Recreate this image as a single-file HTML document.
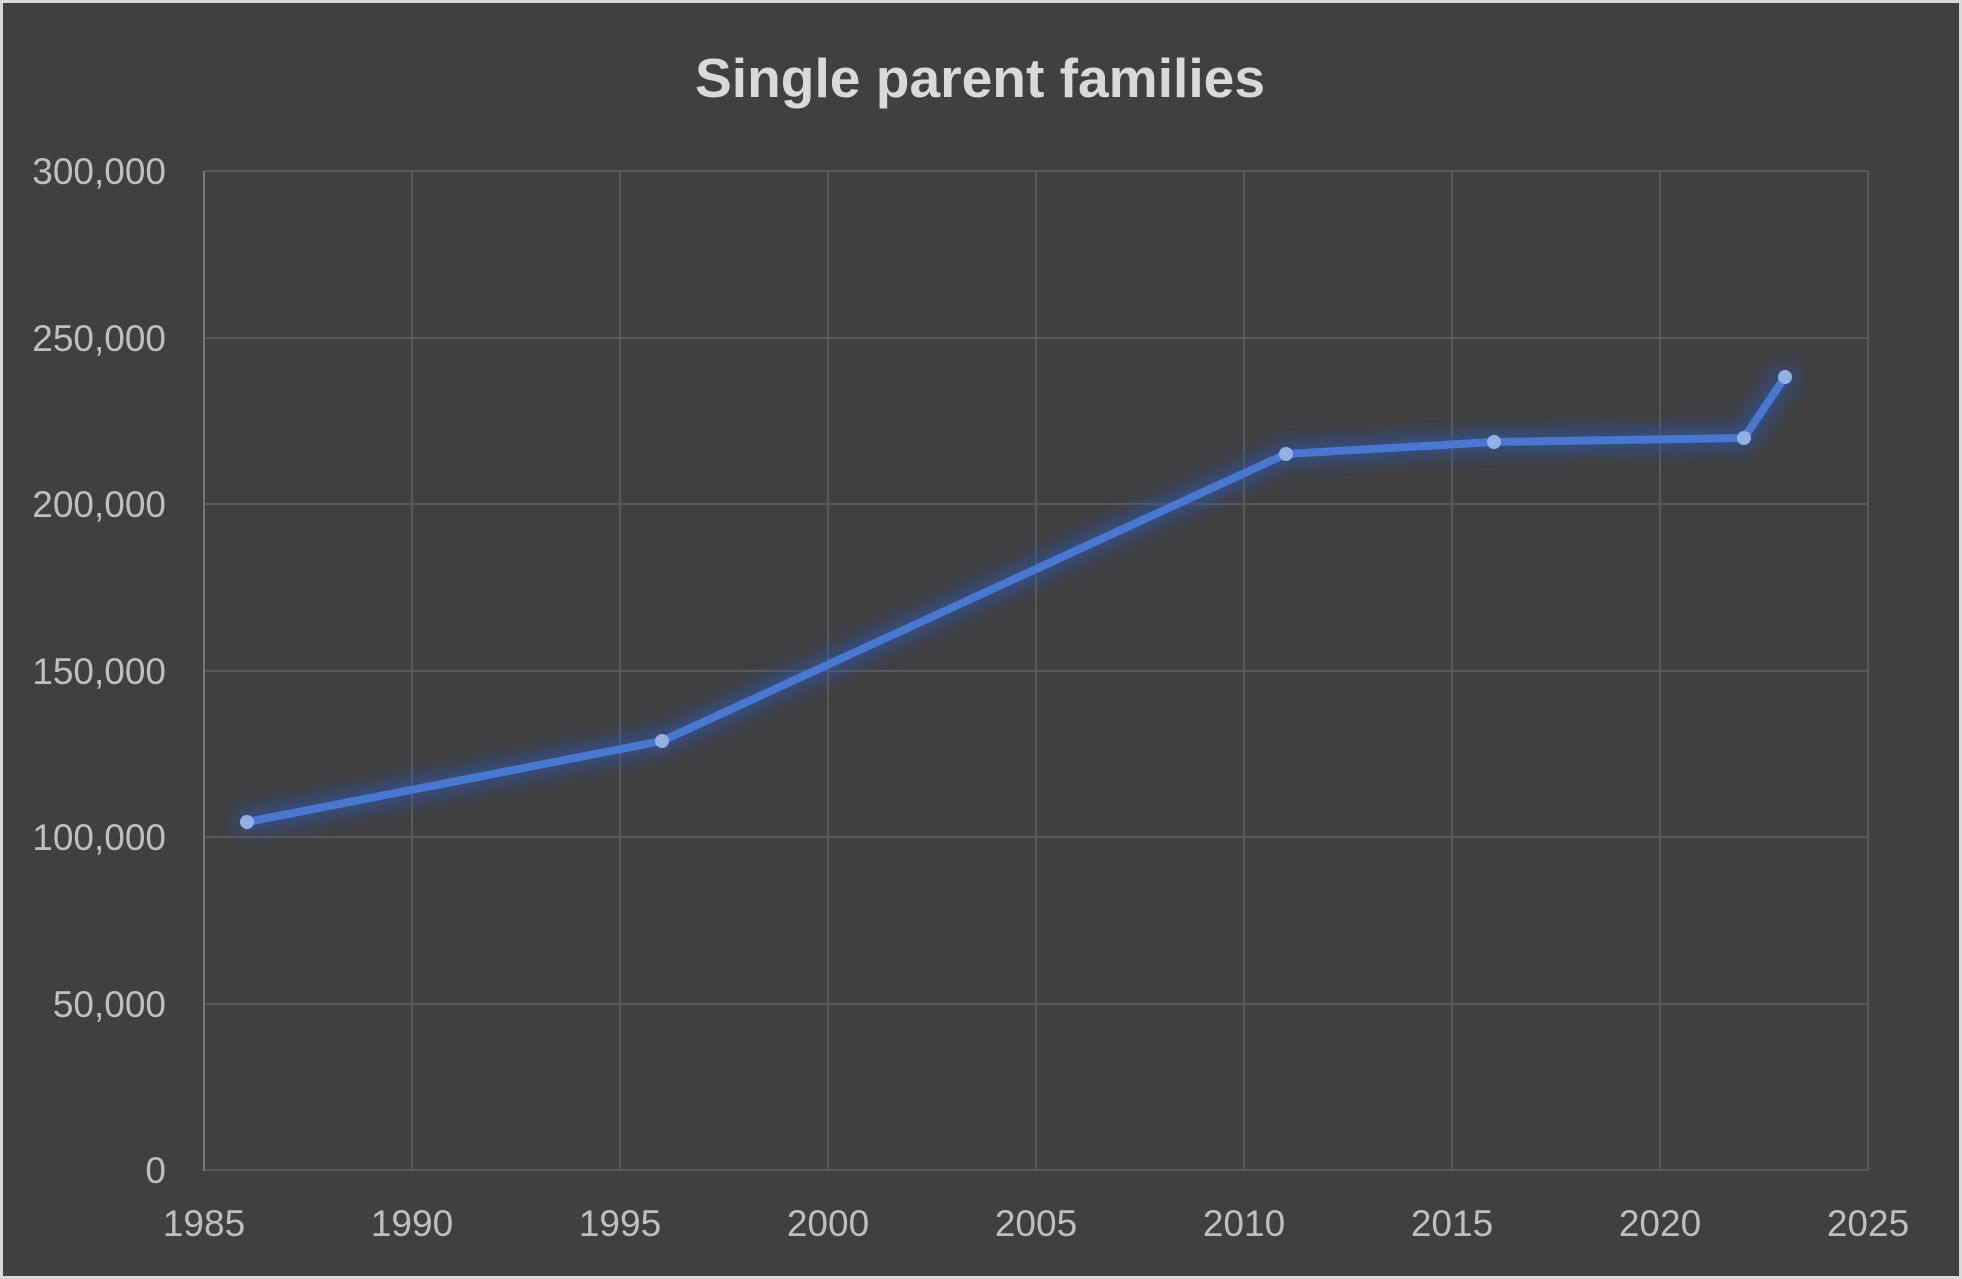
<!DOCTYPE html>
<html><head><meta charset="utf-8"><style>
html,body{margin:0;padding:0;background:#d9d9d9;}
svg{display:block;}
</style></head><body>
<svg width="1962" height="1279" xmlns="http://www.w3.org/2000/svg" font-family="Liberation Sans, sans-serif">
<defs><filter id="g" x="-20%" y="-20%" width="140%" height="140%"><feGaussianBlur stdDeviation="9"/></filter></defs>
<rect x="0" y="0" width="1962" height="1279" fill="#d9d9d9"/>
<rect x="3" y="3" width="1956" height="1273" fill="#404040"/>
<text x="980" y="97" text-anchor="middle" font-size="55" font-weight="bold" fill="#d9d9d9" textLength="570" lengthAdjust="spacingAndGlyphs">Single parent families</text>
<g stroke="#595959" stroke-width="2">
<line x1="204" y1="171" x2="1868" y2="171"/>
<line x1="204" y1="338" x2="1868" y2="338"/>
<line x1="204" y1="504" x2="1868" y2="504"/>
<line x1="204" y1="671" x2="1868" y2="671"/>
<line x1="204" y1="837" x2="1868" y2="837"/>
<line x1="204" y1="1004" x2="1868" y2="1004"/>
<line x1="204" y1="1170" x2="1868" y2="1170"/>
<line x1="412" y1="171" x2="412" y2="1170"/>
<line x1="620" y1="171" x2="620" y2="1170"/>
<line x1="828" y1="171" x2="828" y2="1170"/>
<line x1="1036" y1="171" x2="1036" y2="1170"/>
<line x1="1244" y1="171" x2="1244" y2="1170"/>
<line x1="1452" y1="171" x2="1452" y2="1170"/>
<line x1="1660" y1="171" x2="1660" y2="1170"/>
<line x1="1868" y1="171" x2="1868" y2="1170"/>
</g>
<line x1="204" y1="171" x2="204" y2="1171" stroke="#767676" stroke-width="2"/>
<g font-size="37" fill="#bfbfbf" text-anchor="end">
<text x="166" y="184">300,000</text>
<text x="166" y="351">250,000</text>
<text x="166" y="517">200,000</text>
<text x="166" y="684">150,000</text>
<text x="166" y="850">100,000</text>
<text x="166" y="1017">50,000</text>
<text x="166" y="1183">0</text>
</g>
<g font-size="37" fill="#bfbfbf" text-anchor="middle">
<text x="204" y="1236">1985</text>
<text x="412" y="1236">1990</text>
<text x="620" y="1236">1995</text>
<text x="828" y="1236">2000</text>
<text x="1036" y="1236">2005</text>
<text x="1244" y="1236">2010</text>
<text x="1452" y="1236">2015</text>
<text x="1660" y="1236">2020</text>
<text x="1868" y="1236">2025</text>
</g>
<polyline points="247,822 662,741 1286,454 1494,442 1744,438 1785,377" fill="none" stroke="#2a58bd" stroke-width="22" stroke-linejoin="round" stroke-linecap="round" opacity="0.6" filter="url(#g)"/>
<polyline points="247,822 662,741 1286,454 1494,442 1744,438 1785,377" fill="none" stroke="#4a78d0" stroke-width="8" stroke-linejoin="round"/>
<g fill="#93b0e6">
<circle cx="247" cy="822" r="7"/><circle cx="662" cy="741" r="7"/><circle cx="1286" cy="454" r="7"/>
<circle cx="1494" cy="442" r="7"/><circle cx="1744" cy="438" r="7"/><circle cx="1785" cy="377" r="7"/>
</g>
</svg>
</body></html>
